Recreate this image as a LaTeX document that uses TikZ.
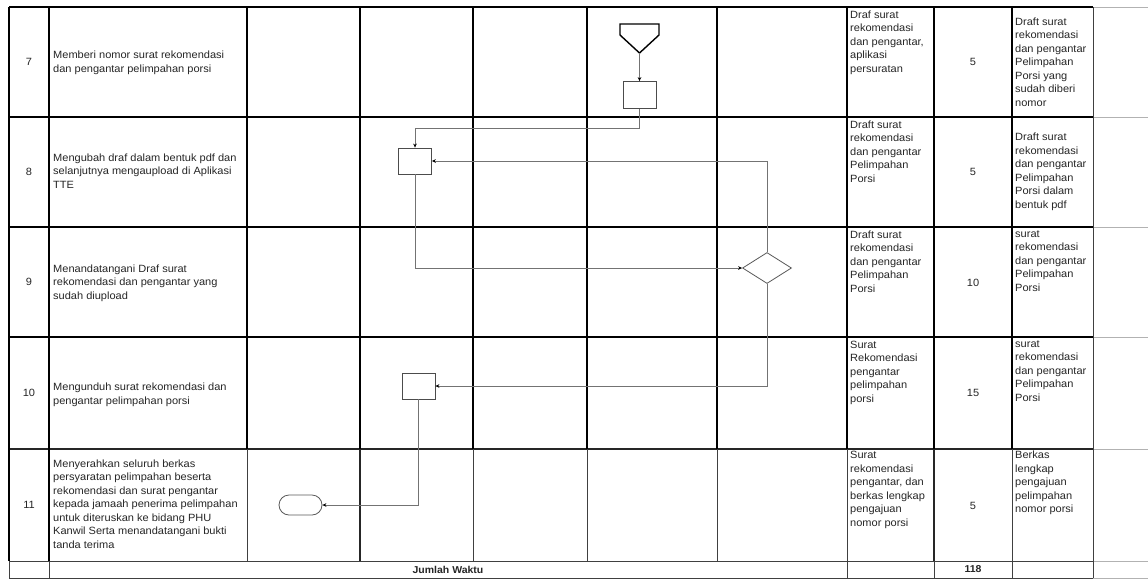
\documentclass[tikz,border=0pt]{standalone}
\usepackage{fontspec}
\setmainfont{Liberation Sans}[FakeStretch=1.05]
\usetikzlibrary{shapes.geometric,arrows.meta}
\begin{document}
\begin{tikzpicture}[x=1pt,y=-1pt,
  thickline/.style={line width=1.8pt,black},
  midline/.style={line width=1.2pt,black!85},
  thinline/.style={line width=0.8pt,black!75},
  faint/.style={line width=0.8pt,black!30},
  conn/.style={line width=0.7pt,black!55,-{Stealth[length=4pt,width=3.6pt,black]}},
  box/.style={draw=black!70,line width=0.8pt,minimum width=33pt,minimum height=26pt,inner sep=0pt},
  txt/.style={font=\fontsize{10.5}{13.5}\selectfont,text=black!85,inner sep=0pt,align=left},
  num/.style={font=\fontsize{10.5}{13.5}\selectfont,text=black!85,inner sep=0pt},
  bnum/.style={font=\fontsize{10}{12}\selectfont\bfseries,text=black!85,inner sep=0pt},
]
\useasboundingbox (0,0) rectangle (1148,579);
\fill[white] (0,0) rectangle (1148,579);

% ---------- grid ----------
\foreach \y in {7,117,227,337,449,561,578} \draw[faint] (1093,\y) -- (1148,\y);
\foreach \y in {7,117,227,337} \draw[thickline] (9,\y) -- (1093,\y);
\draw[midline] (9,449) -- (1093,449);
\draw[thinline] (9,561) -- (1093,561);
\draw[thinline] (9,578) -- (1093,578);
\foreach \x in {247,360,473,587,717,847,934,1012} \draw[thickline] (\x,7) -- (\x,449);
\draw[thickline] (9,7) -- (9,561);
\draw[thickline] (49,7) -- (49,561);
\foreach \x in {247,473,587,717,847,1012} \draw[thinline] (\x,449) -- (\x,561);
\draw[midline] (360,449) -- (360,561);
\draw[midline] (934,449) -- (934,561);
\foreach \x in {9,49,847,934,1012} \draw[thinline] (\x,561) -- (\x,578);
\draw[thinline] (1093,7) -- (1093,578);

% ---------- numbers ----------
\node[num] (n7) at (29,62) {7};
\node[num] (n8) at (29,172) {8};
\node[num] (n9) at (29,282) {9};
\node[num] (n10) at (29,393) {10};
\node[num] (n11) at (29,505) {11};

% ---------- activities ----------
\node[txt,anchor=west] (a7) at (53,63) {Memberi nomor surat rekomendasi\\dan pengantar pelimpahan porsi};
\node[txt,anchor=west] (a8) at (53,171) {Mengubah draf dalam bentuk pdf dan\\selanjutnya mengaupload di Aplikasi\\TTE};
\node[txt,anchor=west] (a9) at (53,283) {Menandatangani Draf surat\\rekomendasi dan pengantar yang\\sudah diupload};
\node[txt,anchor=west] (a10) at (53,395) {Mengunduh surat rekomendasi dan\\pengantar pelimpahan porsi};
\node[txt,anchor=west] (a11) at (53,504) {Menyerahkan seluruh berkas\\persyaratan pelimpahan beserta\\rekomendasi dan surat pengantar\\kepada jamaah penerima pelimpahan\\untuk diteruskan ke bidang PHU\\Kanwil Serta menandatangani bukti\\tanda terima};

% ---------- inputs ----------
\node[txt,anchor=north west] (i7) at (850,10.5) {Draf surat\\rekomendasi\\dan pengantar,\\aplikasi\\persuratan};
\node[txt,anchor=north west] (i8) at (850,120.5) {Draft surat\\rekomendasi\\dan pengantar\\Pelimpahan\\Porsi};
\node[txt,anchor=north west] (i9) at (850,230.5) {Draft surat\\rekomendasi\\dan pengantar\\Pelimpahan\\Porsi};
\node[txt,anchor=north west] (i10) at (850,340.5) {Surat\\Rekomendasi\\pengantar\\pelimpahan\\porsi};
\node[txt,anchor=north west] (i11) at (850,451) {Surat\\rekomendasi\\pengantar, dan\\berkas lengkap\\pengajuan\\nomor porsi};

% ---------- durations ----------
\node[num] (t7) at (973,62) {5};
\node[num] (t8) at (973,172) {5};
\node[num] (t9) at (973,283) {10};
\node[num] (t10) at (973,393) {15};
\node[num] (t11) at (973,506) {5};

% ---------- outputs ----------
\node[txt,anchor=west] (o7) at (1015,62) {Draft surat\\rekomendasi\\dan pengantar\\Pelimpahan\\Porsi yang\\sudah diberi\\nomor};
\node[txt,anchor=west] (o8) at (1015,172) {Draft surat\\rekomendasi\\dan pengantar\\Pelimpahan\\Porsi dalam\\bentuk pdf};
\node[txt,anchor=north west] (o9) at (1015,230.5) {surat\\rekomendasi\\dan pengantar\\Pelimpahan\\Porsi};
\node[txt,anchor=north west] (o10) at (1015,340.5) {surat\\rekomendasi\\dan pengantar\\Pelimpahan\\Porsi};
\node[txt,anchor=north west] (o11) at (1015,451) {Berkas\\lengkap\\pengajuan\\pelimpahan\\nomor porsi};

% ---------- total ----------
\node[bnum] (jw) at (448,569.5) {Jumlah Waktu};
\node[bnum] (tot) at (973,569.5) {118};

% ---------- flow shapes ----------
\draw[line width=1.4pt,black] (620,24) -- (659,24) -- (659,35) -- (639.5,53) -- (620,35) -- cycle;
\coordinate (offtip) at (639.5,53);
\node[box,minimum height=27pt] (r7) at (639.5,95) {};
\node[box] (r8) at (415,161) {};
\node[draw=black!65,line width=0.8pt,diamond,aspect=1.58,minimum width=49pt,minimum height=31pt,inner sep=0pt] (d9) at (767,268) {};
\node[box] (r10) at (418.5,386) {};
\node[draw=black!65,line width=0.8pt,rounded corners=10pt,minimum width=43pt,minimum height=20pt,inner sep=0pt] (end) at (300.5,505) {};

% ---------- connectors ----------
\draw[conn] (offtip) -- (r7.north);
\draw[conn] (r7.south) -- ++(0,19.5) -| (r8.north);
\draw[conn] (r8.south) |- (d9.west);
\draw[conn] (d9.north) |- (r8.east);
\draw[conn] (d9.south) |- (r10.east);
\draw[conn] (r10.south) |- (end.east);
\end{tikzpicture}
\end{document}
